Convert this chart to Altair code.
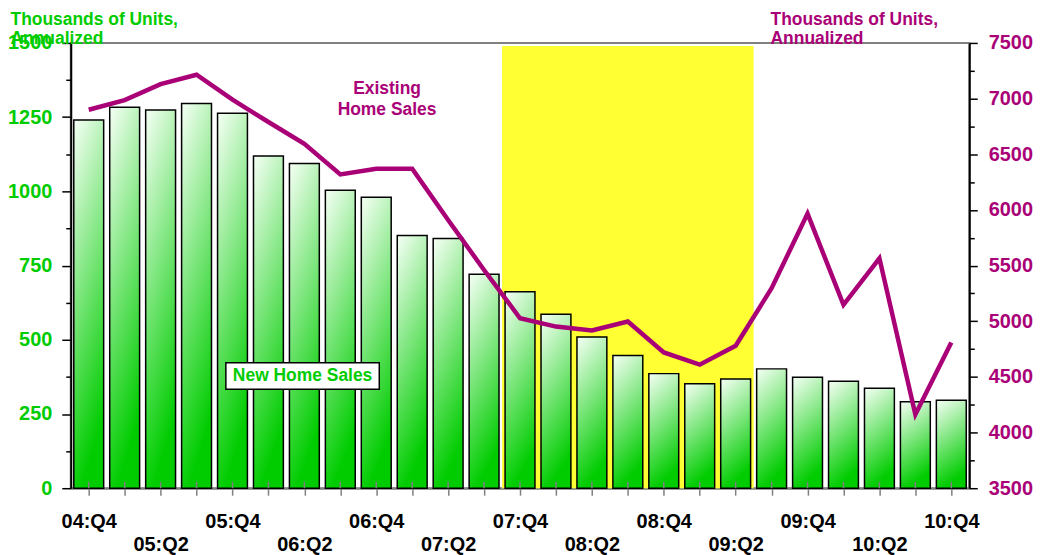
import altair as alt
import pandas as pd

quarters = ["04:Q4", "05:Q1", "05:Q2", "05:Q3", "05:Q4", "06:Q1", "06:Q2", "06:Q3",
            "06:Q4", "07:Q1", "07:Q2", "07:Q3", "07:Q4", "08:Q1", "08:Q2", "08:Q3",
            "08:Q4", "09:Q1", "09:Q2", "09:Q3", "09:Q4", "10:Q1", "10:Q2", "10:Q3", "10:Q4"]
new_home = [1240, 1283, 1274, 1296, 1263, 1119, 1094, 1004, 980, 851, 841, 721, 662,
            586, 509, 447, 386, 352, 368, 402, 374, 360, 337, 291, 296]
existing = [6900, 6987, 7130, 7214, 6990, 6790, 6593, 6319, 6370, 6370, 5910, 5460, 5027,
            4952, 4917, 4997, 4720, 4610, 4780, 5296, 5967, 5147, 5565, 4162, 4810]
recession = ["07:Q4", "09:Q2"]

GREEN = "#00CC00"
MAGENTA = "#AA0077"
FONT = "Liberation Sans"

df = pd.DataFrame({"idx": range(len(quarters)), "quarter": quarters,
                   "new_home": new_home, "existing": existing})
rec = pd.DataFrame({"start": [quarters.index(recession[0]) - 0.5],
                    "end": [quarters.index(recession[1]) + 0.5]})

arr = "[" + ",".join(f"'{q}'" for q in quarters) + "]"
lab = f"{arr}[datum.value]"

x_scale = alt.Scale(domain=[-0.5, len(quarters) - 0.5], nice=False, zero=False, padding=0)
y_left = alt.Scale(domain=[0, 1500], nice=False)
y_right = alt.Scale(domain=[3500, 7500], nice=False, zero=False)

x_common = dict(values=list(range(len(quarters))), title=None, grid=False, orient="bottom",
                tickSize=7, tickWidth=1.5, labelFont=FONT, labelFontSize=20,
                labelFontWeight="bold", labelColor="black", labelBaseline="top",
                labelOverlap=False, labelFlush=False, labelBound=False)

# first row of labels (Q4) with the visible ticks and axis line
x_axis = alt.Axis(labelExpr=f"indexof({lab}, 'Q4') > 0 ? {lab} : ''",
                  tickColor="#808080", domainColor="#808080", domainWidth=2,
                  labelPadding=16, **x_common)
# second row of labels (Q2)
x_axis2 = alt.Axis(labelExpr=f"indexof({lab}, 'Q2') > 0 ? {lab} : ''",
                   tickColor="transparent", domain=False, labelPadding=40, **x_common)

left_axis = alt.Axis(values=list(range(0, 1501, 125)), format="d",
                     labelExpr="datum.value % 250 === 0 ? datum.label : ''",
                     tickSize={"condition": {"test": "datum.value % 250 === 0", "value": 9},
                               "value": 5},
                     tickColor="black", tickWidth=1.5, domainColor="black", domainWidth=2,
                     grid=False, labelFont=FONT, labelFontSize=20, labelFontWeight="bold",
                     labelColor=GREEN, labelPadding=10,
                     title=["Thousands of Units,", "Annualized"], titleAngle=0,
                     titleAlign="left", titleBaseline="top", titleX=-61, titleY=-33,
                     titleFont=FONT, titleFontSize=17.5, titleFontWeight="bold",
                     titleColor=GREEN, titleLineHeight=20)

right_axis = alt.Axis(orient="right", values=list(range(3500, 7501, 250)), format="d",
                      labelExpr="datum.value % 500 === 0 ? datum.label : ''",
                      tickSize={"condition": {"test": "datum.value % 500 === 0", "value": 8},
                                "value": 5},
                      tickColor="black", tickWidth=1.5, domainColor="black", domainWidth=2,
                      grid=False, labelFont=FONT, labelFontSize=20, labelFontWeight="bold",
                      labelColor=MAGENTA, labelPadding=11,
                      title=["Thousands of Units,", "Annualized"], titleAngle=0,
                      titleAlign="left", titleBaseline="top", titleX=-200, titleY=-33,
                      titleFont=FONT, titleFontSize=17.5, titleFontWeight="bold",
                      titleColor=MAGENTA, titleLineHeight=20)

shade = alt.Chart(rec).mark_rect(color="#FFFF33").encode(
    x=alt.X("start:Q", scale=x_scale, axis=x_axis),
    x2="end:Q",
    y=alt.Y(datum=0, scale=y_left, axis=left_axis),
    y2=alt.Y2(datum=1490),
)

gradient = alt.Gradient(
    gradient="linear",
    stops=[alt.GradientStop(color="#F6FFF6", offset=0),
           alt.GradientStop(color=GREEN, offset=1)],
    x1=0, x2=0.25, y1=0, y2=1,
)

bars = alt.Chart(df).mark_bar(width=30, color=gradient, stroke="black",
                              strokeWidth=1.5).encode(
    x=alt.X("idx:Q", scale=x_scale, axis=x_axis),
    y=alt.Y("new_home:Q", scale=y_left, axis=left_axis),
)

inner_ticks = alt.Chart(df).mark_rule(color="#808080", strokeWidth=1.5).encode(
    x=alt.X("idx:Q", scale=x_scale, axis=x_axis),
    y=alt.Y(datum=0, scale=y_left, axis=left_axis),
    y2=alt.Y2(datum=22),
)

box = alt.Chart(df.head(1)).mark_bar(width=154, color="white", stroke="black",
                                     strokeWidth=1.5).encode(
    x=alt.X(datum=5.95, scale=x_scale, axis=x_axis),
    y=alt.Y(datum=333, scale=y_left, axis=left_axis),
    y2=alt.Y2(datum=423),
)

box_text = alt.Chart(df.head(1)).mark_text(
    text="New Home Sales", font=FONT, fontSize=17.5, fontWeight="bold", color=GREEN,
    baseline="middle", align="center",
).encode(
    x=alt.X(datum=5.95, scale=x_scale, axis=x_axis),
    y=alt.Y(datum=378, scale=y_left, axis=left_axis),
)

line = alt.Chart(df).mark_line(color=MAGENTA, strokeWidth=4.5).encode(
    x=alt.X("idx:Q", scale=x_scale, axis=x_axis2),
    y=alt.Y("existing:Q", scale=y_right, axis=right_axis),
)

line_text = alt.Chart(df.head(1)).mark_text(
    text=["Existing", "Home Sales"], font=FONT, fontSize=17.5, fontWeight="bold",
    color=MAGENTA, baseline="middle", align="center", lineHeight=22,
).encode(
    x=alt.X(datum=8.3, scale=x_scale, axis=x_axis2),
    y=alt.Y(datum=7090, scale=y_right, axis=right_axis),
)

left = alt.layer(shade, bars, inner_ticks, box, box_text)
right = alt.layer(line, line_text)

chart = (
    alt.layer(left, right)
    .resolve_scale(y="independent")
    .resolve_axis(x="independent")
    .properties(width=902, height=447, autosize=alt.AutoSizeParams(type="none"),
                padding={"left": 63, "top": 34, "right": 70, "bottom": 72},
                background="white")
    .configure_view(stroke="#808080", strokeWidth=2)
)

chart.save("out.html", embed_options={"renderer": "svg", "actions": False})
